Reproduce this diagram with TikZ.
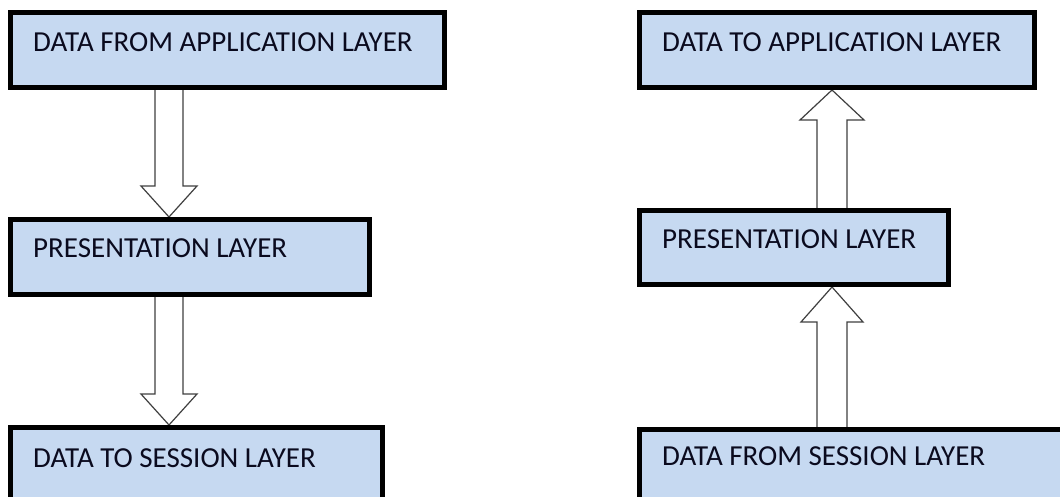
\documentclass[tikz,border=0pt]{standalone}
\usepackage{fontspec}
\setmainfont{Carlito}
\usetikzlibrary{calc,backgrounds}
\definecolor{layerfill}{HTML}{C6D9F1}
\definecolor{arrowline}{HTML}{3F3F3F}
\definecolor{layerink}{HTML}{0A0A1E}
\tikzset{
  layerbox/.style={draw=black, line width=5pt, fill=layerfill, rectangle,
    anchor=north west, inner sep=0pt},
  layertext/.style={anchor=base west, inner sep=0pt,
    font=\fontsize{29}{32}\selectfont, text=layerink},
  blockarrow/.style={draw=arrowline, line width=1.2pt, fill=white, line join=miter},
}
\begin{document}
\begin{tikzpicture}[x=1pt,y=-1pt]
\useasboundingbox (0,0) rectangle (1060,497);
\clip (0,0) rectangle (1060,497);

% sending side (left column)
\node[layerbox, minimum width=434pt, minimum height=75pt] (appL) at (8,10) {};
\node[layerbox, minimum width=359pt, minimum height=75pt] (presL) at (8,217) {};
\node[layerbox, minimum width=372pt, minimum height=120pt] (sessL) at (8,425) {};
\node[layertext] (appLt) at ([xshift=25pt,yshift=-42pt]appL.north west) {DATA FROM APPLICATION LAYER};
\node[layertext] (presLt) at ([xshift=25pt,yshift=-40pt]presL.north west) {PRESENTATION LAYER};
\node[layertext] (sessLt) at ([xshift=25pt,yshift=-42pt]sessL.north west) {DATA TO SESSION LAYER};

% receiving side (right column)
\node[layerbox, minimum width=395pt, minimum height=75pt] (appR) at (637,10) {};
\node[layerbox, minimum width=309pt, minimum height=74pt] (presR) at (637,208) {};
\node[layerbox, minimum width=460pt, minimum height=120pt] (sessR) at (637,427) {};
\node[layertext] (appRt) at ([xshift=25pt,yshift=-42pt]appR.north west) {DATA TO APPLICATION LAYER};
\node[layertext] (presRt) at ([xshift=25pt,yshift=-40pt]presR.north west) {PRESENTATION LAYER};
\node[layertext] (sessRt) at ([xshift=25pt,yshift=-38pt]sessR.north west) {DATA FROM SESSION LAYER};

\begin{scope}[on background layer]
  \fill[white] (0,0) rectangle (1060,497);
  % downward block arrows
  \draw[blockarrow] let \p1=([xshift=161pt]appL.south west), \p2=(presL.north) in
    (\x1-14pt,\y1+3pt) -- (\x1-14pt,\y2+31pt) -- (\x1-28pt,\y2+31pt) -- (\x1,\y2)
    -- (\x1+28pt,\y2+31pt) -- (\x1+14pt,\y2+31pt) -- (\x1+14pt,\y1+3pt) -- cycle;
  \draw[blockarrow] let \p1=([xshift=161pt]presL.south west), \p2=(sessL.north) in
    (\x1-14pt,\y1+3pt) -- (\x1-14pt,\y2+31pt) -- (\x1-28pt,\y2+31pt) -- (\x1,\y2)
    -- (\x1+28pt,\y2+31pt) -- (\x1+14pt,\y2+31pt) -- (\x1+14pt,\y1+3pt) -- cycle;
  % upward block arrows
  \draw[blockarrow] let \p1=([xshift=195pt]presR.north west), \p2=(appR.south) in
    (\x1-15pt,\y1-3pt) -- (\x1-15pt,\y2-30pt) -- (\x1-32pt,\y2-30pt) -- (\x1,\y2)
    -- (\x1+32pt,\y2-30pt) -- (\x1+15pt,\y2-30pt) -- (\x1+15pt,\y1-3pt) -- cycle;
  \draw[blockarrow] let \p1=([xshift=195pt]sessR.north west), \p2=(presR.south) in
    (\x1-15pt,\y1-3pt) -- (\x1-15pt,\y2-35pt) -- (\x1-31pt,\y2-35pt) -- (\x1,\y2)
    -- (\x1+31pt,\y2-35pt) -- (\x1+15pt,\y2-35pt) -- (\x1+15pt,\y1-3pt) -- cycle;
\end{scope}
\end{tikzpicture}
\end{document}
